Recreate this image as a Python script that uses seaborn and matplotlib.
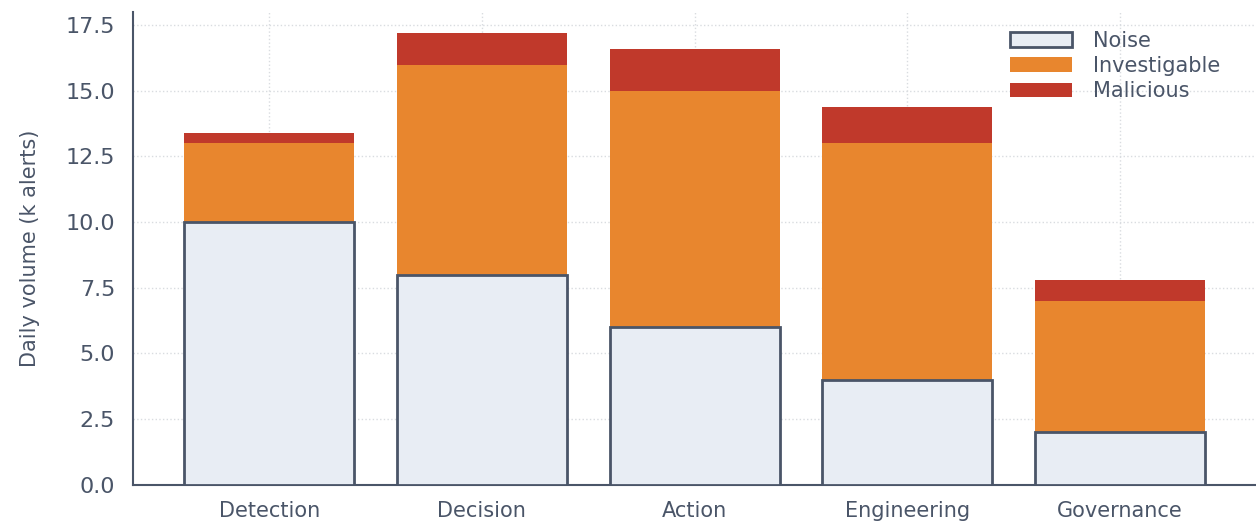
import pandas as pd
import matplotlib
matplotlib.use('Agg')
import matplotlib.pyplot as plt
from matplotlib.ticker import MultipleLocator
import seaborn as sns

stages = ['Detection', 'Decision', 'Action', 'Engineering', 'Governance']
noise = [10, 8, 6, 4, 2]
investigable = [3, 8, 9, 9, 5]
malicious = [0.4, 1.2, 1.6, 1.4, 0.8]

ink = '#4a5568'

sns.set_style('white')
plt.rcParams['font.family'] = ['DejaVu Sans']
plt.rcParams['text.color'] = ink
plt.rcParams['axes.labelcolor'] = ink
plt.rcParams['xtick.color'] = ink
plt.rcParams['ytick.color'] = ink

df = pd.DataFrame({'Stage': stages, 'Noise': noise,
                   'Investigable': investigable, 'Malicious': malicious})
df['base2'] = df['Noise'] + df['Investigable']

fig = plt.figure(figsize=(12.56, 5.23), dpi=100)
ax = fig.add_axes([0.106, 0.073, 0.894, 0.904])

sns.barplot(data=df, x='Stage', y='Noise', color='#e8edf4', edgecolor=ink,
            linewidth=2, saturation=1, label='Noise', ax=ax, zorder=4)
sns.barplot(data=df, x='Stage', y='Investigable', bottom=df['Noise'], color='#e8862e',
            linewidth=0, saturation=1, label='Investigable', ax=ax, zorder=3)
sns.barplot(data=df, x='Stage', y='Malicious', bottom=df['base2'], color='#c0392b',
            linewidth=0, saturation=1, label='Malicious', ax=ax, zorder=3)

ax.set_xlim(-0.64, 4.64)
ax.set_ylim(0, 18)
ax.yaxis.set_major_locator(MultipleLocator(2.5))
ax.set_xlabel('')
ax.set_ylabel('Daily volume (k alerts)', fontsize=15, labelpad=18)
ax.tick_params(axis='y', labelsize=16, length=6, width=1.2, color=ink, pad=7)
ax.tick_params(axis='x', labelsize=15, length=6, width=1.2, color=ink, pad=6)
ax.grid(True, axis='both', linestyle=':', color='#d9dce0', linewidth=1, zorder=0)
ax.set_axisbelow(True)
for side in ['top', 'right']:
    ax.spines[side].set_visible(False)
for side in ['left', 'bottom']:
    ax.spines[side].set_color(ink)
    ax.spines[side].set_linewidth(1.5)

ax.legend(loc='upper right', bbox_to_anchor=(0.985, 1.0), frameon=False,
          fontsize=15, handlelength=3.0, labelspacing=0.25, handletextpad=1.0)

fig.savefig('out.png', dpi=100)
